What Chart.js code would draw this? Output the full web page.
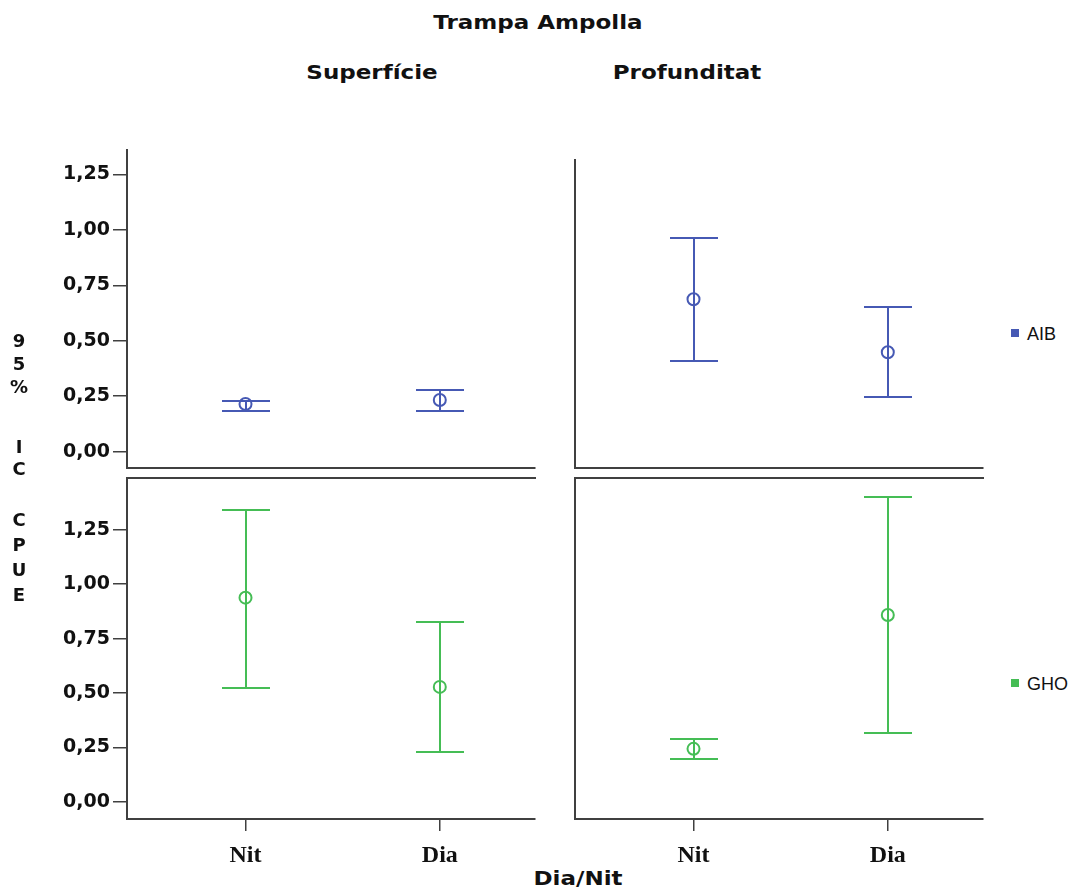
<!DOCTYPE html>
<html>
<head>
<meta charset="utf-8">
<script src="https://cdn.jsdelivr.net/npm/chart.js@4.4.0/dist/chart.umd.min.js"></script>
<style>
  body { margin: 0; background: #fff; }
  #wrap { position: relative; width: 1071px; height: 890px; overflow: hidden; font-family: "DejaVu Sans", sans-serif; color: #111; }
  #wrap canvas { position: absolute; }
  .title { position: absolute; font-weight: bold; font-size: 20px; white-space: nowrap; transform: translate(-50%, -50%) scaleX(1.15); }
  .ylab { position: absolute; left: 19px; font-weight: bold; font-size: 18px; transform: translate(-50%, -50%); }
  .leg { position: absolute; left: 1011px; font-family: "Liberation Sans", Arial, sans-serif; font-size: 18px; }
  .leg span { display: inline-block; width: 8px; height: 8px; margin-right: 8px; vertical-align: middle; position: relative; top: -2px; }
</style>
</head>
<body>
<div id="wrap">
  <div class="title" style="left:538px;top:22px">Trampa Ampolla</div>
  <div class="title" style="left:372px;top:72px">Superfície</div>
  <div class="title" style="left:687px;top:72px">Profunditat</div>
  <div class="title" style="left:578px;top:878px">Dia/Nit</div>

  <canvas id="tl" width="545" height="360" style="left:0;top:130px"></canvas>
  <canvas id="tr" width="433" height="360" style="left:560px;top:130px"></canvas>
  <canvas id="bl" width="545" height="426" style="left:0;top:464px"></canvas>
  <canvas id="br" width="433" height="426" style="left:560px;top:464px"></canvas>
</div>

<script>
// data
const categories = ["Nit", "Dia"];
const series = ["AIB", "GHO"];
const seriesColors = ["#4659b4", "#45bd55"];

// AIB
const aibSupMean = [0.215, 0.233];
const aibSupLow  = [0.185, 0.185];
const aibSupHigh = [0.230, 0.277];
const aibProMean = [0.687, 0.448];
const aibProLow  = [0.410, 0.248];
const aibProHigh = [0.962, 0.653];

// GHO
const ghoSupMean = [0.938, 0.528];
const ghoSupLow  = [0.525, 0.231];
const ghoSupHigh = [1.343, 0.828];
const ghoProMean = [0.243, 0.857];
const ghoProLow  = [0.195, 0.314];
const ghoProHigh = [0.286, 1.400];

const yStep = 0.25;

// y-axis title, one character per line
const yTitle = [["9", 340], ["5", 363], ["%", 386], ["I", 446], ["C", 468], ["C", 519], ["P", 544], ["U", 569], ["E", 594]];
const wrap = document.getElementById("wrap");
yTitle.forEach(([ch, y]) => {
  const d = document.createElement("div");
  d.className = "ylab";
  d.style.top = y + "px";
  d.textContent = ch;
  wrap.appendChild(d);
});

// legend
[335, 685].forEach((y, i) => {
  const d = document.createElement("div");
  d.className = "leg";
  d.style.top = (y - 11) + "px";
  d.innerHTML = '<span style="background:' + seriesColors[i] + '"></span>' + series[i];
  wrap.appendChild(d);
});

const axisColor = "#404040";

// draws the confidence interval whiskers
const errorBars = {
  id: "errorBars",
  beforeDatasetsDraw(chart) {
    const { ctx, scales: { x, y } } = chart;
    chart.data.datasets.forEach(ds => {
      ctx.save();
      ctx.strokeStyle = ds.borderColor;
      ctx.lineWidth = 2;
      ds.data.forEach((p, i) => {
        const px = Math.round(x.getPixelForValue(p.x));
        const top = Math.round(y.getPixelForValue(ds.high[i]));
        const bot = Math.round(y.getPixelForValue(ds.low[i]));
        ctx.beginPath();
        ctx.moveTo(px, top); ctx.lineTo(px, bot);
        ctx.moveTo(px - 24, top); ctx.lineTo(px + 24, top);
        ctx.moveTo(px - 24, bot); ctx.lineTo(px + 24, bot);
        ctx.stroke();
      });
      ctx.restore();
    });
  }
};

function makePanel(id, opt) {
  const color = seriesColors[opt.serie];
  const scales = {
    x: {
      type: "linear",
      min: 0.39, max: 2.49,
      afterBuildTicks: s => { s.ticks = categories.map((c, i) => ({ value: i + 1 })); },
      afterFit: s => { s.height = opt.xTicks ? 71 : 0; },
      ticks: {
        display: opt.xTicks,
        padding: 10,
        color: "#111",
        font: { family: "Liberation Serif", size: 24, weight: "bold" },
        callback: v => categories[v - 1]
      },
      grid: { display: true, drawOnChartArea: false, drawTicks: opt.xTicks, tickLength: 12, color: axisColor, lineWidth: 1.5 },
      border: { display: true, color: axisColor, width: 2 }
    },
    y: {
      min: opt.yMin, max: opt.yMax,
      afterFit: s => { s.width = opt.yW; },
      ticks: {
        display: opt.yTicks,
        stepSize: yStep,
        includeBounds: false,
        padding: 3,
        color: "#111",
        font: { family: "DejaVu Sans", size: 19, weight: "bold" },
        callback: v => v.toFixed(2).replace(".", ",")
      },
      grid: { display: true, drawOnChartArea: false, drawTicks: opt.yTicks, tickLength: 14, color: axisColor, lineWidth: 1.5 },
      border: { display: true, color: axisColor, width: 2 }
    }
  };
  if (opt.topLine) {
    scales.x2 = {
      type: "linear", position: "top", min: 0.39, max: 2.49,
      afterFit: s => { s.height = 0; },
      ticks: { display: false },
      grid: { display: true, drawOnChartArea: false, drawTicks: false, color: axisColor },
      border: { display: true, color: axisColor, width: 2 }
    };
  }
  return new Chart(document.getElementById(id), {
    type: "scatter",
    data: {
      datasets: [{
        label: series[opt.serie],
        data: opt.mean.map((m, i) => ({ x: i + 1, y: m })),
        low: opt.low,
        high: opt.high,
        borderColor: color,
        backgroundColor: "rgba(0,0,0,0)",
        pointRadius: 6,
        pointBorderWidth: 2,
        pointHoverRadius: 6
      }]
    },
    options: {
      responsive: false,
      animation: false,
      devicePixelRatio: 1,
      layout: { padding: opt.pad },
      plugins: { legend: { display: false }, tooltip: { enabled: false } },
      scales: scales
    },
    plugins: [errorBars]
  });
}

makePanel("tl", { serie: 0, mean: aibSupMean, low: aibSupLow, high: aibSupHigh,
  yMin: -0.0735, yMax: 1.36, yW: 127, yTicks: true, xTicks: false, topLine: false,
  pad: { left: 0, right: 10, top: 20, bottom: 22 } });
makePanel("tr", { serie: 0, mean: aibProMean, low: aibProLow, high: aibProHigh,
  yMin: -0.0735, yMax: 1.315, yW: 15, yTicks: false, xTicks: false, topLine: false,
  pad: { left: 0, right: 10, top: 30, bottom: 22 } });
makePanel("bl", { serie: 1, mean: ghoSupMean, low: ghoSupLow, high: ghoSupHigh,
  yMin: -0.079, yMax: 1.486, yW: 127, yTicks: true, xTicks: true, topLine: true,
  pad: { left: 0, right: 10, top: 14, bottom: 0 } });
makePanel("br", { serie: 1, mean: ghoProMean, low: ghoProLow, high: ghoProHigh,
  yMin: -0.079, yMax: 1.486, yW: 15, yTicks: false, xTicks: true, topLine: true,
  pad: { left: 0, right: 10, top: 14, bottom: 0 } });
</script>
</body>
</html>
